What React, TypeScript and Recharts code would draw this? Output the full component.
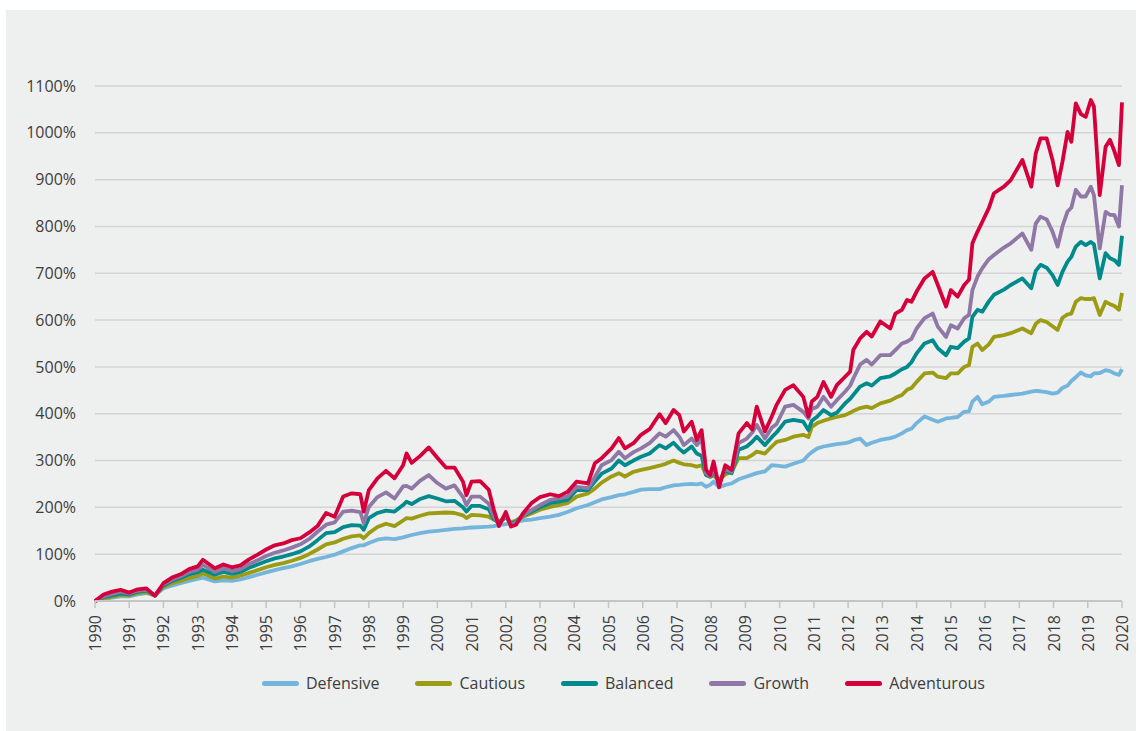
import React from 'react';
import { LineChart, Line, XAxis, YAxis, CartesianGrid } from 'recharts';

const TIMES = [
  1990.00, 1990.25, 1990.50, 1990.75, 1991.00, 1991.25, 1991.50, 1991.75, 1992.00, 1992.25,
  1992.50, 1992.75, 1993.00, 1993.15, 1993.50, 1993.75, 1994.00, 1994.25, 1994.50, 1994.75,
  1995.00, 1995.25, 1995.50, 1995.75, 1996.00, 1996.25, 1996.50, 1996.75, 1997.00, 1997.25,
  1997.50, 1997.75, 1997.85, 1998.00, 1998.25, 1998.50, 1998.75, 1999.00, 1999.10, 1999.25,
  1999.50, 1999.75, 2000.00, 2000.25, 2000.50, 2000.75, 2000.85, 2001.00, 2001.25, 2001.50,
  2001.65, 2001.80, 2002.00, 2002.15, 2002.30, 2002.50, 2002.75, 2003.00, 2003.30, 2003.55,
  2003.80, 2004.07, 2004.40, 2004.60, 2004.80, 2005.09, 2005.30, 2005.48, 2005.73, 2005.95,
  2006.20, 2006.49, 2006.67, 2006.90, 2007.07, 2007.20, 2007.43, 2007.58, 2007.72, 2007.85,
  2007.97, 2008.07, 2008.23, 2008.41, 2008.60, 2008.80, 2009.04, 2009.20, 2009.33, 2009.57,
  2009.77, 2009.91, 2010.16, 2010.40, 2010.69, 2010.84, 2010.94, 2011.10, 2011.28, 2011.50,
  2011.67, 2011.91, 2012.06, 2012.15, 2012.35, 2012.54, 2012.69, 2012.94, 2013.23, 2013.38,
  2013.57, 2013.72, 2013.85, 2014.00, 2014.23, 2014.47, 2014.62, 2014.86, 2015.00, 2015.20,
  2015.39, 2015.53, 2015.63, 2015.78, 2015.92, 2016.11, 2016.26, 2016.55, 2016.75, 2017.09,
  2017.35, 2017.48, 2017.62, 2017.80, 2017.97, 2018.12, 2018.26, 2018.41, 2018.52, 2018.65,
  2018.80, 2018.94, 2019.09, 2019.18, 2019.35, 2019.52, 2019.65, 2019.78, 2019.91, 2020.00,
];

const DEFENSIVE = [
  0, 4, 7, 10, 10, 14, 17, 12, 27, 33,
  38, 43, 47, 50, 42, 44, 43, 46, 51, 56,
  61, 66, 70, 74, 79, 85, 90, 94, 99, 106,
  113, 119, 119, 124, 131, 134, 132, 136, 138, 141,
  145, 148, 150, 152, 154, 155, 156, 157, 158, 159,
  160, 162, 164, 167, 169, 172, 174, 177, 180, 184,
  190, 198, 205, 211, 217, 222, 226, 228, 233, 238,
  239, 239, 243, 247, 248, 249, 250, 249, 251, 244,
  248, 255, 243, 248, 251, 260, 266, 270, 273, 277,
  290, 289, 287, 293, 300, 312, 318, 326, 330, 333,
  335, 337, 340, 343, 347, 333, 338, 344, 348, 351,
  358, 365, 368, 380, 394, 387, 383, 390, 391, 393,
  404, 405, 426, 436, 420, 426, 436, 438, 440, 443,
  447, 449, 448, 446, 443, 445, 455, 460, 470, 478,
  488, 482, 480, 486, 487, 493, 491, 486, 483, 495,
];

const CAUTIOUS = [
  0, 6, 9, 13, 12, 17, 19, 12, 30, 38,
  43, 49, 53, 59, 48, 52, 50, 54, 60, 66,
  72, 77, 81, 86, 92, 100, 110, 121, 125, 133,
  138, 140, 134, 145, 158, 165, 160, 172, 177, 176,
  182, 187, 188, 189, 188, 183, 177, 184, 183, 180,
  174, 170, 178, 168, 172, 180, 187, 195, 201, 205,
  209, 223, 230, 240, 253, 266, 273, 266, 276, 280,
  284, 289, 293, 300, 295, 292, 290, 287, 290, 269,
  265, 268, 258, 270, 276, 305, 305, 312, 319, 315,
  330, 340, 344, 351, 355, 350, 372, 380, 385, 390,
  393, 397, 402, 406, 412, 415, 412, 422, 428, 434,
  440, 451, 455, 468, 486, 488, 479, 476, 486, 486,
  500, 504, 543, 550, 536, 548, 564, 568, 572, 582,
  572, 592, 600, 596, 587, 579, 605, 612, 614, 639,
  647, 645, 645, 647, 611, 639, 634, 630, 622, 658,
];

const BALANCED = [
  0, 8, 12, 16, 14, 20, 22, 12, 33, 43,
  49, 57, 61, 67, 56, 62, 58, 62, 71, 78,
  85, 91, 95, 100, 106, 116, 130, 145, 147, 158,
  162, 161, 152, 177, 188, 193, 191, 205, 212, 207,
  218, 224, 219, 213, 214, 200, 191, 203, 203, 196,
  175, 166, 180, 165, 170, 182, 191, 200, 209, 212,
  216, 237, 237, 255, 272, 283, 300, 290, 300, 308,
  315, 333, 326, 338, 325, 317, 330, 315, 310, 269,
  266, 275, 255, 278, 273, 323, 330, 340, 351, 333,
  350, 360, 383, 387, 383, 365, 385, 394, 408, 397,
  402, 422, 432, 440, 458, 465, 460, 476, 480, 486,
  495, 500, 510, 529, 550, 557, 540, 525, 543, 540,
  554, 561, 607, 622, 618, 640, 654, 665, 675, 689,
  668, 705, 718, 712, 696, 675, 703, 725, 735, 757,
  767, 760, 767, 762, 689, 743, 732, 728, 718, 780,
];

const GROWTH = [
  0, 10, 15, 20, 16, 22, 24, 12, 36, 46,
  53, 62, 67, 77, 62, 70, 64, 68, 79, 87,
  96, 103, 108, 114, 121, 132, 148, 163, 168, 191,
  193, 190, 166, 201, 222, 232, 219, 245, 246, 240,
  257, 269, 252, 240, 247, 222, 205, 223, 223, 208,
  180, 166, 184, 162, 168, 183, 194, 205, 216, 219,
  223, 244, 241, 265, 290, 301, 319, 305, 318, 326,
  337, 358, 351, 365, 351, 333, 347, 333, 347, 273,
  267, 282, 251, 282, 276, 337, 347, 360, 376, 347,
  370, 378, 415, 419, 404, 390, 410, 415, 436, 415,
  429, 447, 460, 475, 505, 515, 505, 525, 525, 536,
  550, 554, 560, 582, 604, 614, 586, 564, 589, 582,
  604, 611, 664, 693, 711, 730, 739, 755, 764, 785,
  750, 806, 821, 815, 789, 757, 800, 832, 840, 878,
  864, 864, 885, 867, 753, 831, 825, 824, 800, 888,
];

const ADVENTUROUS = [
  0, 14, 20, 24, 18, 25, 27, 11, 38, 50,
  57, 68, 74, 88, 70, 78, 72, 76, 89, 99,
  110, 119, 123, 130, 134, 146, 160, 188, 180, 223,
  230, 228, 191, 237, 262, 278, 262, 290, 315, 295,
  310, 328, 306, 285, 285, 255, 226, 255, 256, 238,
  195, 160, 190, 159, 163, 187, 209, 222, 228, 224,
  233, 255, 251, 294, 305, 326, 348, 326, 337, 355,
  367, 399, 380, 408, 397, 362, 383, 344, 365, 280,
  269, 298, 243, 290, 280, 358, 380, 366, 415, 362,
  394, 419, 451, 461, 436, 394, 426, 436, 468, 436,
  461, 479, 490, 536, 561, 575, 565, 597, 582, 614,
  622, 643, 639, 661, 689, 703, 675, 629, 664, 650,
  675, 686, 764, 789, 810, 839, 871, 885, 899, 942,
  885, 956, 988, 988, 942, 888, 938, 1002, 981, 1063,
  1040, 1034, 1070, 1056, 867, 970, 985, 960, 931, 1065,
];

const YEAR_TICKS = [
  1990, 1991, 1992, 1993, 1994, 1995, 1996, 1997, 1998, 1999, 2000,
  2001, 2002, 2003, 2004, 2005, 2006, 2007, 2008, 2009, 2010,
  2011, 2012, 2013, 2014, 2015, 2016, 2017, 2018, 2019, 2020,
];

const PERCENT_TICKS = [0, 100, 200, 300, 400, 500, 600, 700, 800, 900, 1000, 1100];

const SERIES = [
  { name: 'Defensive', color: '#74b5dc', values: DEFENSIVE },
  { name: 'Cautious', color: '#9c9c14', values: CAUTIOUS },
  { name: 'Balanced', color: '#008a8c', values: BALANCED },
  { name: 'Growth', color: '#8f78a6', values: GROWTH },
  { name: 'Adventurous', color: '#d5003b', values: ADVENTUROUS },
];

const data = TIMES.map((t, i) => {
  const row: Record<string, number> = { t };
  SERIES.forEach((s) => {
    row[s.name] = s.values[i];
  });
  return row;
});

const FONT = "'Open Sans', 'Noto Sans', sans-serif";
const TEXT = '#3d3d3d';

function YearTick(props: any) {
  const { x, y, payload } = props;
  return (
    <text
      x={x}
      y={y}
      transform={`rotate(-90 ${x} ${y})`}
      textAnchor="end"
      dominantBaseline="central"
      fill={TEXT}
      fontSize={16}
      fontFamily={FONT}
    >
      {payload.value}
    </text>
  );
}

export default function App() {
  return (
    <div
      style={{
        position: 'absolute',
        left: 6,
        top: 10,
        width: 1130,
        height: 721,
        background: '#eeefef',
        fontFamily: FONT,
      }}
    >
      <LineChart
        width={1130}
        height={721}
        data={data}
        margin={{ top: 76, right: 14, left: 0, bottom: 0 }}
      >
        <CartesianGrid vertical={false} stroke="#d4d4d4" strokeWidth={1.5} />
        <XAxis
          dataKey="t"
          type="number"
          domain={[1990, 2020]}
          ticks={YEAR_TICKS}
          interval={0}
          height={130}
          tickSize={7}
          tickMargin={7}
          axisLine={{ stroke: '#c4c4c4', strokeWidth: 2 }}
          tickLine={{ stroke: '#c4c4c4', strokeWidth: 1.5 }}
          tick={<YearTick />}
        />
        <YAxis
          type="number"
          domain={[0, 1100]}
          ticks={PERCENT_TICKS}
          interval={0}
          width={89}
          axisLine={false}
          tickLine={false}
          tickSize={6}
          tickMargin={13}
          tickFormatter={(v: number) => `${v}%`}
          tick={{ fill: TEXT, fontSize: 16, fontFamily: FONT }}
        />
        {SERIES.map((s) => (
          <Line
            key={s.name}
            type="linear"
            dataKey={s.name}
            stroke={s.color}
            strokeWidth={3.8}
            strokeLinejoin="round"
            dot={false}
            activeDot={false}
            isAnimationActive={false}
          />
        ))}
      </LineChart>
      <div
        style={{
          position: 'absolute',
          left: 256,
          top: 661,
          height: 24,
          display: 'flex',
          alignItems: 'center',
          fontSize: 16,
          color: TEXT,
          fontFamily: FONT,
        }}
      >
        {SERIES.map((s) => (
          <div key={s.name} style={{ display: 'flex', alignItems: 'center', marginRight: 36 }}>
            <div
              style={{
                width: 37,
                height: 5,
                borderRadius: 3,
                background: s.color,
                marginRight: 7,
              }}
            />
            <span style={{ lineHeight: '24px' }}>{s.name}</span>
          </div>
        ))}
      </div>
    </div>
  );
}
